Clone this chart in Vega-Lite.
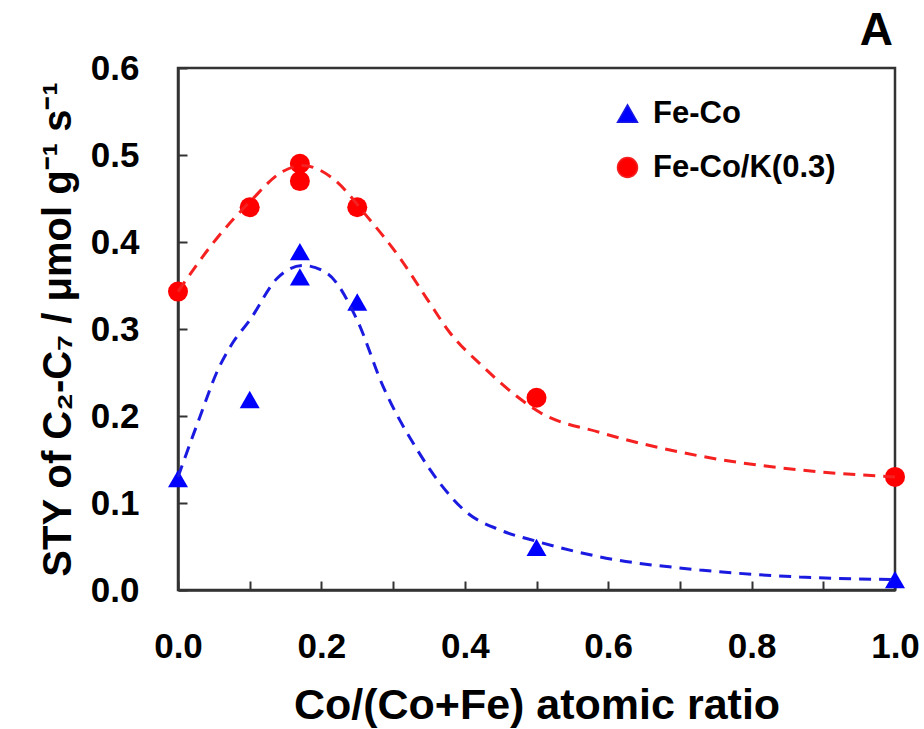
{
  "$schema": "https://vega.github.io/schema/vega-lite/v6.json",
  "width": 717,
  "height": 522,
  "autosize": {"type": "none"},
  "padding": {"left": 178, "top": 68, "right": 29, "bottom": 139},
  "background": "white",
  "title": {"text": "A", "anchor": "end", "frame": "group", "fontSize": 46, "fontWeight": "bold", "font": "Liberation Sans", "offset": -4, "dx": -2, "color": "black"},
  "config": {
    "view": {"stroke": "#333333", "strokeWidth": 2.5},
    "axis": {"labelFont": "Liberation Sans", "labelFontWeight": "bold", "labelFontSize": 35, "labelColor": "black", "titleFont": "Liberation Sans", "titleFontWeight": "bold", "titleColor": "black", "domainColor": "#333333", "domainWidth": 2.5, "tickColor": "#333333", "tickWidth": 2, "grid": false},
    "legend": {"labelFont": "Liberation Sans", "labelFontWeight": "bold", "labelFontSize": 31, "labelColor": "black", "symbolSize": 400, "rowPadding": 22, "labelOffset": 10, "labelLimit": 0}
  },
  "datasets": {
    "pts": [
      {"series": "Fe-Co", "x": 0.0, "y": 0.128},
      {"series": "Fe-Co", "x": 0.1, "y": 0.219},
      {"series": "Fe-Co", "x": 0.17, "y": 0.389},
      {"series": "Fe-Co", "x": 0.17, "y": 0.36},
      {"series": "Fe-Co", "x": 0.25, "y": 0.331},
      {"series": "Fe-Co", "x": 0.5, "y": 0.049},
      {"series": "Fe-Co", "x": 1.0, "y": 0.012},
      {"series": "Fe-Co/K(0.3)", "x": 0.0, "y": 0.343},
      {"series": "Fe-Co/K(0.3)", "x": 0.1, "y": 0.44},
      {"series": "Fe-Co/K(0.3)", "x": 0.17, "y": 0.49},
      {"series": "Fe-Co/K(0.3)", "x": 0.17, "y": 0.47},
      {"series": "Fe-Co/K(0.3)", "x": 0.25, "y": 0.44},
      {"series": "Fe-Co/K(0.3)", "x": 0.5, "y": 0.221},
      {"series": "Fe-Co/K(0.3)", "x": 1.0, "y": 0.13}
    ],
    "fit": [
      {"curve": "Fe-Co", "x": 0.0, "y": 0.13},
      {"curve": "Fe-Co", "x": 0.031, "y": 0.2},
      {"curve": "Fe-Co", "x": 0.054, "y": 0.25},
      {"curve": "Fe-Co", "x": 0.077, "y": 0.285},
      {"curve": "Fe-Co", "x": 0.1, "y": 0.31},
      {"curve": "Fe-Co", "x": 0.138, "y": 0.358},
      {"curve": "Fe-Co", "x": 0.174, "y": 0.373},
      {"curve": "Fe-Co", "x": 0.208, "y": 0.364},
      {"curve": "Fe-Co", "x": 0.25, "y": 0.31},
      {"curve": "Fe-Co", "x": 0.286, "y": 0.234},
      {"curve": "Fe-Co", "x": 0.333, "y": 0.162},
      {"curve": "Fe-Co", "x": 0.365, "y": 0.123},
      {"curve": "Fe-Co", "x": 0.403, "y": 0.089},
      {"curve": "Fe-Co", "x": 0.449, "y": 0.069},
      {"curve": "Fe-Co", "x": 0.5, "y": 0.056},
      {"curve": "Fe-Co", "x": 0.589, "y": 0.038},
      {"curve": "Fe-Co", "x": 0.728, "y": 0.023},
      {"curve": "Fe-Co", "x": 0.867, "y": 0.015},
      {"curve": "Fe-Co", "x": 1.0, "y": 0.012},
      {"curve": "Fe-Co/K(0.3)", "x": 0.0, "y": 0.343},
      {"curve": "Fe-Co/K(0.3)", "x": 0.054, "y": 0.404},
      {"curve": "Fe-Co/K(0.3)", "x": 0.1, "y": 0.446},
      {"curve": "Fe-Co/K(0.3)", "x": 0.146, "y": 0.481},
      {"curve": "Fe-Co/K(0.3)", "x": 0.174, "y": 0.488},
      {"curve": "Fe-Co/K(0.3)", "x": 0.216, "y": 0.473},
      {"curve": "Fe-Co/K(0.3)", "x": 0.263, "y": 0.43},
      {"curve": "Fe-Co/K(0.3)", "x": 0.31, "y": 0.381},
      {"curve": "Fe-Co/K(0.3)", "x": 0.347, "y": 0.335},
      {"curve": "Fe-Co/K(0.3)", "x": 0.379, "y": 0.296},
      {"curve": "Fe-Co/K(0.3)", "x": 0.425, "y": 0.257},
      {"curve": "Fe-Co/K(0.3)", "x": 0.472, "y": 0.223},
      {"curve": "Fe-Co/K(0.3)", "x": 0.505, "y": 0.204},
      {"curve": "Fe-Co/K(0.3)", "x": 0.589, "y": 0.181},
      {"curve": "Fe-Co/K(0.3)", "x": 0.728, "y": 0.154},
      {"curve": "Fe-Co/K(0.3)", "x": 0.867, "y": 0.138},
      {"curve": "Fe-Co/K(0.3)", "x": 1.0, "y": 0.13}
    ]
  },
  "layer": [
    {
      "data": {"name": "pts"},
      "mark": {"type": "point", "filled": true, "opacity": 1, "size": 400, "clip": false},
      "encoding": {
        "x": {"field": "x", "type": "quantitative",
          "scale": {"domain": [0, 1], "nice": false, "zero": false},
          "axis": {"title": "Co/(Co+Fe) atomic ratio", "titleFontSize": 43, "values": [0, 0.1, 0.2, 0.3, 0.4, 0.5, 0.6, 0.7, 0.8, 0.9, 1.0],
            "labelExpr": "round(datum.value*10) % 2 == 0 ? format(datum.value, '.1f') : ''",
            "tickSize": -9, "labelPadding": 48, "titlePadding": 20, "labelFlush": false, "labelOverlap": false}},
        "y": {"field": "y", "type": "quantitative",
          "scale": {"domain": [0, 0.6], "nice": false},
          "axis": {"title": "STY of C₂-C₇ / μmol g⁻¹ s⁻¹", "titleFontSize": 40, "values": [0, 0.1, 0.2, 0.3, 0.4, 0.5, 0.6], "format": ".1f",
            "tickSize": -9, "labelPadding": 48, "titlePadding": 12, "labelOverlap": false}},
        "color": {"field": "series", "type": "nominal",
          "scale": {"domain": ["Fe-Co", "Fe-Co/K(0.3)"], "range": ["#0000ff", "#ff0000"]},
          "legend": {"title": null, "orient": "none", "legendX": 434, "legendY": 30}},
        "shape": {"field": "series", "type": "nominal",
          "scale": {"domain": ["Fe-Co", "Fe-Co/K(0.3)"], "range": ["triangle-up", "circle"]}}
      }
    },
    {
      "data": {"name": "fit"},
      "mark": {"type": "line", "strokeDash": [12, 8], "strokeWidth": 3, "interpolate": "monotone", "clip": false},
      "encoding": {
        "x": {"field": "x", "type": "quantitative"},
        "y": {"field": "y", "type": "quantitative"},
        "detail": {"field": "curve"},
        "stroke": {"field": "curve", "type": "nominal", "legend": null,
          "scale": {"domain": ["Fe-Co", "Fe-Co/K(0.3)"], "range": ["#1a1ae0", "#f52020"]}}
      }
    }
  ]
}
